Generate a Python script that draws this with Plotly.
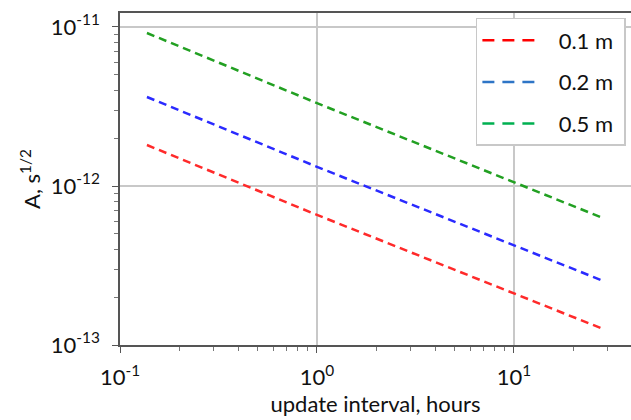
import plotly.graph_objects as go

# Data
interval_hours = [0.137, 1.0, 27.5]
A_01m = [1.81e-12, 6.58e-13, 1.28e-13]
A_02m = [3.63e-12, 1.32e-12, 2.57e-13]
A_05m = [9.17e-12, 3.32e-12, 6.38e-13]

series_names = ["0.1 m", "0.2 m", "0.5 m"]
line_colors = ["#ff2a2a", "#2a2aff", "#22a022"]
legend_colors = ["#ff0000", "#2e75c6", "#00b050"]

x_tickvals = [0.1, 1, 10]
x_ticktext = ["10<sup>-1</sup>", "10<sup>0</sup>", "10<sup>1</sup>"]
y_tickvals = [1e-13, 1e-12, 1e-11]
y_ticktext = ["10<sup>-13</sup>", "10<sup>-12</sup>", "10<sup>-11</sup>"]

FONT = "Lato"
FS = 22
fig = go.Figure()
for i, (name, ys, lc, gc) in enumerate(zip(series_names, [A_01m, A_02m, A_05m], line_colors, legend_colors)):
    fig.add_trace(go.Scatter(x=interval_hours, y=ys, mode="lines", showlegend=False,
                             line=dict(color=lc, width=2.5, dash="8px,5px")))
    fig.add_trace(go.Scatter(x=[None], y=[None], mode="lines", name="\u00a0\u00a0" + name + "\u00a0",
                             legendgroup=f"g{i}",
                             line=dict(color=gc, width=2.5, dash="12px,8px")))

axis_common = dict(
    type="log", showgrid=True, gridcolor="#c8c8c8", gridwidth=1.5,
    showline=True, linecolor="#555555", linewidth=1.5,
    ticks="outside", ticklen=6, tickcolor="#555555",
    tickfont=dict(family=FONT, size=FS, color="#111111"),
    zeroline=False,
    minor=dict(ticks="outside", ticklen=4, tickcolor="#777777", showgrid=False, dtick="D1"),
)

fig.update_layout(
    width=631, height=420,
    margin=dict(l=120, r=0, t=13, b=75),
    paper_bgcolor="white", plot_bgcolor="white",
    font=dict(family=FONT, size=FS, color="#111111"),
    xaxis=dict(axis_common, range=[-1, 1.594], tickmode="array", tickvals=x_tickvals,
               ticktext=x_ticktext, mirror=True, ticklabelstandoff=6,
               title=dict(text="update interval, hours", font=dict(family=FONT, size=FS), standoff=6)),
    yaxis=dict(axis_common, range=[-13, -10.912], tickmode="array", tickvals=y_tickvals,
               ticktext=y_ticktext, ticklabelstandoff=8,
               title=dict(text="A, s<sup>1/2</sup>", font=dict(family=FONT, size=FS), standoff=4)),
    legend=dict(x=0.990, y=0.985, xanchor="right", yanchor="top",
                bgcolor="white", bordercolor="#c8c8c8", borderwidth=1.5,
                font=dict(family=FONT, size=FS, color="#111111"),
                tracegroupgap=10, itemwidth=60),
)

fig.write_html("out.html", config={"displayModeBar": False},
               post_script="document.body.style.margin='0';")
